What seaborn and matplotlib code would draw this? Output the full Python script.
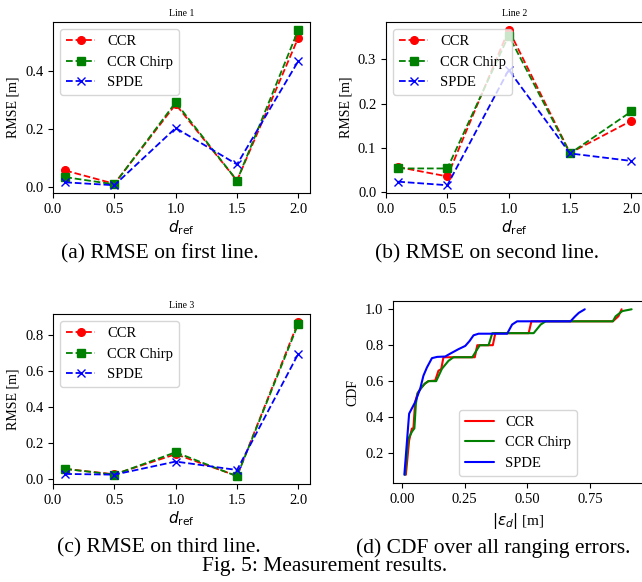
import matplotlib
matplotlib.use("Agg")
import matplotlib.pyplot as plt
import seaborn as sns

# %%
# RMSE per reference distance, three measurement lines
distances = [0.1, 0.5, 1.0, 1.5, 2.0]

line1_ccr = [0.056, 0.010, 0.285, 0.021, 0.516]
line1_chirp = [0.033, 0.008, 0.292, 0.021, 0.543]
line1_spde = [0.015, 0.005, 0.203, 0.077, 0.435]

line2_ccr = [0.056, 0.035, 0.367, 0.088, 0.161]
line2_chirp = [0.053, 0.053, 0.354, 0.087, 0.182]
line2_spde = [0.023, 0.015, 0.276, 0.087, 0.070]

line3_ccr = [0.056, 0.026, 0.138, 0.017, 0.876]
line3_chirp = [0.056, 0.024, 0.149, 0.015, 0.865]
line3_spde = [0.028, 0.024, 0.097, 0.050, 0.698]

# CDF over all ranging errors
cdf_ccr_x = [0.015, 0.028, 0.039, 0.045, 0.052, 0.062, 0.075, 0.09, 0.105, 0.132, 0.145,
             0.156, 0.165, 0.29, 0.30, 0.362, 0.372, 0.505, 0.516, 0.841, 0.863, 0.876]
cdf_ccr_y = [0.079, 0.27, 0.336, 0.336, 0.483, 0.533, 0.56, 0.585, 0.6, 0.603, 0.658,
             0.667, 0.733, 0.733, 0.8, 0.8, 0.867, 0.867, 0.933, 0.933, 0.961, 1.0]

cdf_chirp_x = [0.012, 0.025, 0.04, 0.049, 0.055, 0.062, 0.075, 0.09, 0.105, 0.136, 0.159,
               0.185, 0.205, 0.28, 0.31, 0.345, 0.36, 0.525, 0.553, 0.573, 0.841, 0.852,
               0.879, 0.916]
cdf_chirp_y = [0.079, 0.28, 0.32, 0.337, 0.475, 0.533, 0.56, 0.585, 0.6, 0.6, 0.669,
               0.713, 0.733, 0.733, 0.8, 0.8, 0.867, 0.867, 0.915, 0.933, 0.933, 0.961,
               0.99, 1.0]

cdf_spde_x = [0.009, 0.028, 0.052, 0.072, 0.085, 0.099, 0.119, 0.14, 0.172, 0.192, 0.225,
              0.252, 0.269, 0.285, 0.305, 0.419, 0.439, 0.459, 0.672, 0.69, 0.705, 0.729]
cdf_spde_y = [0.079, 0.419, 0.483, 0.557, 0.63, 0.676, 0.728, 0.735, 0.737, 0.753, 0.778,
              0.796, 0.823, 0.855, 0.864, 0.864, 0.915, 0.933, 0.933, 0.96, 0.98, 1.0]

labels = ["CCR", "CCR Chirp", "SPDE"]
colors = ["red", "green", "blue"]
markers = ["o", "s", "x"]

# %%
sns.set_style("ticks", {"axes.edgecolor": "black", "xtick.color": "black",
                        "ytick.color": "black", "text.color": "black",
                        "axes.labelcolor": "black"})
plt.rcParams["font.family"] = ["Liberation Serif", "DejaVu Serif"]
plt.rcParams["mathtext.fontset"] = "dejavusans"

W, H = 642, 582
fig = plt.figure(figsize=(W / 100, H / 100), dpi=100)


def box(left, top, width, bottom):
    return [left / W, 1 - bottom / H, width / W, (bottom - top) / H]


def rmse_panel(ax, series, title):
    for vals, lab, col, mk in zip(series, labels, colors, markers):
        sns.lineplot(x=distances, y=vals, ax=ax, color=col, marker=mk, linestyle="--",
                     markersize=5.5, markeredgecolor=col, markeredgewidth=1.0,
                     linewidth=1.3, label=lab)
    ax.set_title(title, fontsize=7, pad=4)
    ax.set_xlabel(r"$d_{\rm ref}$", fontsize=11, labelpad=2)
    ax.set_ylabel("RMSE [m]", fontsize=10)
    ax.set_xticks([0.0, 0.5, 1.0, 1.5, 2.0])
    ax.tick_params(labelsize=10.5)
    ax.legend(loc="upper left", fontsize=10.5)


ax_a = fig.add_axes(box(53, 22, 257, 193))
rmse_panel(ax_a, [line1_ccr, line1_chirp, line1_spde], "Line 1")

ax_b = fig.add_axes(box(386, 22, 257, 193))
rmse_panel(ax_b, [line2_ccr, line2_chirp, line2_spde], "Line 2")

ax_c = fig.add_axes(box(53, 314, 257, 484))
rmse_panel(ax_c, [line3_ccr, line3_chirp, line3_spde], "Line 3")

# %%
# CDF panel
ax_d = fig.add_axes(box(393, 301, 250, 483))
cdf_data = [(cdf_ccr_x, cdf_ccr_y), (cdf_chirp_x, cdf_chirp_y), (cdf_spde_x, cdf_spde_y)]
for (xs, ys), lab, col in zip(cdf_data, labels, colors):
    sns.lineplot(x=xs, y=ys, ax=ax_d, sort=False, estimator=None, color=col,
                 linewidth=1.5, label=lab)
ax_d.set_xlabel(r"$|\epsilon_d|$ [m]", fontsize=11, labelpad=4)
ax_d.set_ylabel("CDF", fontsize=10)
ax_d.set_xticks([0.0, 0.25, 0.5, 0.75])
ax_d.set_yticks([0.2, 0.4, 0.6, 0.8, 1.0])
ax_d.tick_params(labelsize=10.5)
ax_d.legend(loc="lower center", fontsize=10.5)

# %%
# captions
cap = 15.5
fig.text(160 / W, 1 - 254 / H, "(a) RMSE on first line.", ha="center", va="center", fontsize=cap)
fig.text(487 / W, 1 - 254 / H, "(b) RMSE on second line.", ha="center", va="center", fontsize=cap)
fig.text(159 / W, 1 - 548 / H, "(c) RMSE on third line.", ha="center", va="center", fontsize=cap)
fig.text(493 / W, 1 - 548 / H, "(d) CDF over all ranging errors.", ha="center", va="center", fontsize=cap)
fig.text(325 / W, 1 - 567 / H, "Fig. 5: Measurement results.", ha="center", va="center", fontsize=cap)

fig.savefig("out.png", dpi=100)
